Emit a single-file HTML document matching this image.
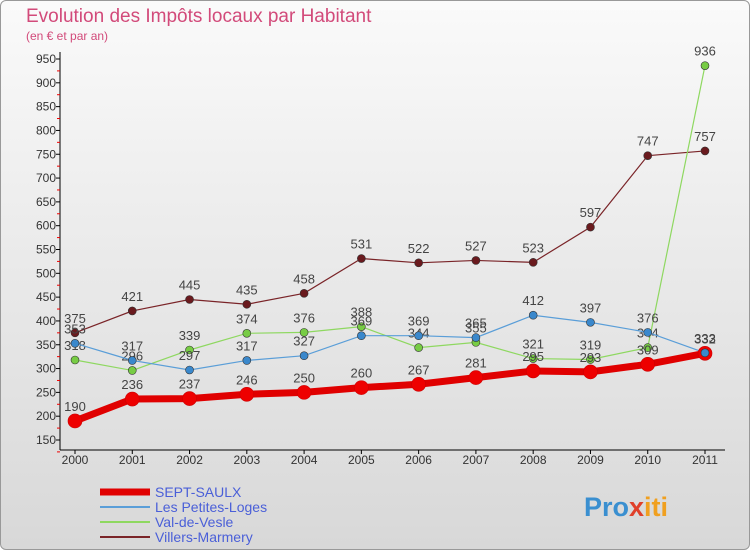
<!DOCTYPE html>
<html><head><meta charset="utf-8"><style>
body{margin:0;width:750px;height:550px;overflow:hidden;font-family:"Liberation Sans",sans-serif}
#wrap{position:absolute;left:0;top:0;width:748px;height:548px;border:1px solid #999;border-radius:6px;background:linear-gradient(#fafafa,#d8d8d8)}
</style></head><body>
<div id="wrap">
<svg id="chart" width="750" height="550" style="position:absolute;left:-1px;top:-1px">
<text x="26" y="22" font-size="19" fill="#d24a7a">Evolution des Impôts locaux par Habitant</text>
<text x="26" y="40" font-size="12" fill="#d24a7a">(en € et par an)</text>
<g id="axes"></g><g id="series"></g><g id="legend"></g>
<text x="584" y="516" font-size="27" font-weight="bold"><tspan fill="#3a8fd0">Pro</tspan><tspan fill="#e0402a">x</tspan><tspan fill="#f0a020">iti</tspan></text>
</svg></div>
<script>
const years=[2000,2001,2002,2003,2004,2005,2006,2007,2008,2009,2010,2011];
const yTicks=[150,200,250,300,350,400,450,500,550,600,650,700,750,800,850,900,950];
const septSaulx=[190,236,237,246,250,260,267,281,295,293,309,332];
const petitesLoges=[353,317,297,317,327,369,369,365,412,397,376,333];
const valDeVesle=[318,296,339,374,376,388,344,355,321,319,344,936];
const villersMarmery=[375,421,445,435,458,531,522,527,523,597,747,757];
const NS="http://www.w3.org/2000/svg";
const x=i=>75+i*(630/11);
const y=v=>440-(v-150)*(381/800);
function mk(t,a,p){const e=document.createElementNS(NS,t);for(const k in a)e.setAttribute(k,a[k]);p.appendChild(e);return e;}
const ax=document.getElementById('axes');
let l=mk('line',{x1:60,y1:52,x2:60,y2:450,stroke:'#000'},ax);

l=mk('line',{x1:60,y1:450,x2:725,y2:450,stroke:'#000'},ax);

yTicks.forEach(v=>{
 const t=mk('text',{x:56,y:y(v)+4,'font-size':12,'text-anchor':'end',fill:'#333'},ax);t.textContent=v;
 
 mk('line',{x1:56,x2:60,y1:y(v),y2:y(v),stroke:'#000'},ax);
 mk('line',{x1:57,x2:60,y1:y(v)+11.9,y2:y(v)+11.9,stroke:'#e00'},ax);
});
years.forEach((yr,i)=>{
 const t=mk('text',{x:x(i),y:464,'font-size':12,'text-anchor':'middle',fill:'#333'},ax);t.textContent=yr;
 
 mk('line',{x1:x(i),x2:x(i),y1:450,y2:454,stroke:'#000'},ax);
});
const series=[
 {name:'villers-marmery',d:villersMarmery,c:'#7a2428',f:'#6a1a1e',w:1.2,r:4},
 {name:'val-de-vesle',d:valDeVesle,c:'#8ed860',f:'#77cc44',w:1.2,r:4},
 {name:'les-petites-loges',d:petitesLoges,c:'#5a9ed8',f:'#3a88cc',w:1.2,r:4},
 {name:'sept-saulx',d:septSaulx,c:'#e00000',f:'#ee0000',w:7,r:7}];
const sg=document.getElementById('series');
series.forEach(s=>{
 const g=mk('g',{},sg);
 const p=mk('polyline',{points:s.d.map((v,i)=>x(i)+','+y(v)).join(' '),fill:'none',stroke:s.c,'stroke-width':s.w},g);
 
 s.d.forEach((v,i)=>{
  const c=mk('circle',{cx:x(i),cy:y(v),r:s.r,fill:s.f,stroke:s.r>5?'#c00':'#333','stroke-width':0.6},g);
  
  const t=mk('text',{x:x(i),y:y(v)-10,'font-size':13,'text-anchor':'middle',fill:'#444'},g);t.textContent=v;
  
 });
});
const c2=mk('circle',{cx:x(11),cy:y(petitesLoges[11]),r:4,fill:'#3a88cc',stroke:'#333','stroke-width':0.6},sg);

const lg=document.getElementById('legend');
[['SEPT-SAULX','#e00000',7],['Les Petites-Loges','#5a9ed8',2],['Val-de-Vesle','#8ed860',2],['Villers-Marmery','#7a2428',2]].forEach((e,i)=>{
 const yy=492+i*15;
 const g=mk('g',{},lg);
 mk('line',{x1:100,x2:150,y1:yy,y2:yy,stroke:e[1],'stroke-width':e[2]},g);
 const t=mk('text',{x:155,y:yy+5,'font-size':14,fill:'#4a5fd8'},g);t.textContent=e[0];
});
</script></body></html>
